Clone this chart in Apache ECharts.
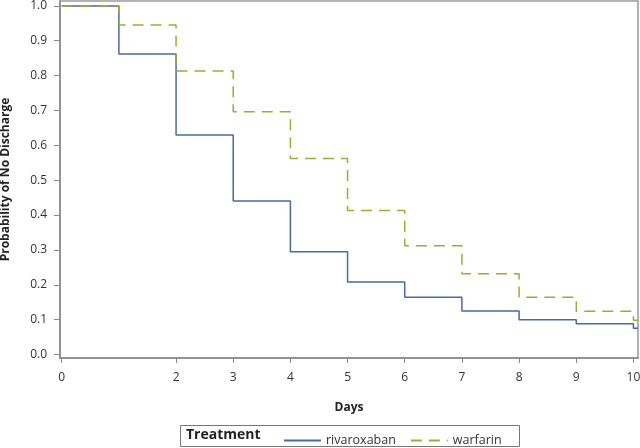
<!DOCTYPE html>
<html><head><meta charset="utf-8">
<script src="https://cdn.jsdelivr.net/npm/echarts@6/dist/echarts.min.js"></script>
<style>html,body{margin:0;padding:0;background:#fff}#c{width:640px;height:448px}</style>
</head><body><div id="c"></div>
<script>
const days = [0,1,2,3,4,5,6,7,8,9,10];
const rivaroxaban = [1.0,0.862,0.630,0.440,0.295,0.208,0.164,0.125,0.100,0.088,0.075];
const warfarin = [1.0,0.945,0.813,0.696,0.562,0.413,0.312,0.232,0.164,0.124,0.098];
const xTicks = [0,2,3,4,5,6,7,8,9,10];
const yTicks = [0,0.1,0.2,0.3,0.4,0.5,0.6,0.7,0.8,0.9,1.0];
const xEnd = 10.08;
function pts(vals){const p=days.map((d,i)=>[d,vals[i]]);p.push([xEnd,vals[vals.length-1]]);return p;}
const font='"Open Sans", sans-serif';
const chart=echarts.init(document.getElementById('c'));
chart.setOption({
  animation:false,
  grid:{left:60,right:2,top:1,bottom:90,containLabel:false,outerBoundsMode:'none',show:true,borderColor:'#999',borderWidth:1.5,backgroundColor:'#fff'},
  xAxis:{type:'value',min:-0.03,max:xEnd,
    name:'Days',nameLocation:'middle',nameGap:44,nameTextStyle:{fontFamily:font,fontWeight:'bold',fontSize:12,color:'#222'},
    axisLine:{show:true,onZero:false,lineStyle:{color:'#888',width:1.5}},
    axisTick:{show:true,length:5,customValues:xTicks,lineStyle:{color:'#888'}},
    axisLabel:{customValues:xTicks,fontFamily:font,fontSize:12,color:'#333',margin:14},
    splitLine:{show:false}},
  yAxis:{type:'value',min:-0.01,max:1.014,
    name:'Probability of No Discharge',nameLocation:'middle',nameGap:48,nameTextStyle:{fontFamily:font,fontWeight:'bold',fontSize:12,color:'#222'},
    axisLine:{show:true,onZero:false,lineStyle:{color:'#888',width:1.5}},
    axisTick:{show:true,length:6,customValues:yTicks,lineStyle:{color:'#888'}},
    axisLabel:{customValues:yTicks,formatter:v=>v.toFixed(1),fontFamily:font,fontSize:12,color:'#333',margin:13},
    splitLine:{show:false}},
  legend:{left:278,top:429,itemWidth:37,itemHeight:12,itemGap:14,
    itemStyle:{opacity:0},
    textStyle:{fontFamily:font,fontSize:12.5,color:'#333'},
    data:['rivaroxaban','warfarin']},
  graphic:[
    {type:'rect',shape:{x:180.5,y:425.5,width:339,height:21},style:{fill:'none',stroke:'#777',lineWidth:1}},
    {type:'text',left:186,top:428,style:{text:'Treatment',font:'bold 14px "Open Sans", sans-serif',fill:'#222'}}
  ],
  series:[
    {name:'rivaroxaban',type:'line',step:'end',symbol:'none',data:pts(rivaroxaban),
      lineStyle:{color:'#4a68a4',width:1.5},itemStyle:{color:'#4a68a4'}},
    {name:'warfarin',type:'line',step:'end',symbol:'none',data:pts(warfarin),
      lineStyle:{color:'#9bae2e',width:1.5,type:[11,7]},itemStyle:{color:'#9bae2e'}}
  ]
});
</script></body></html>
